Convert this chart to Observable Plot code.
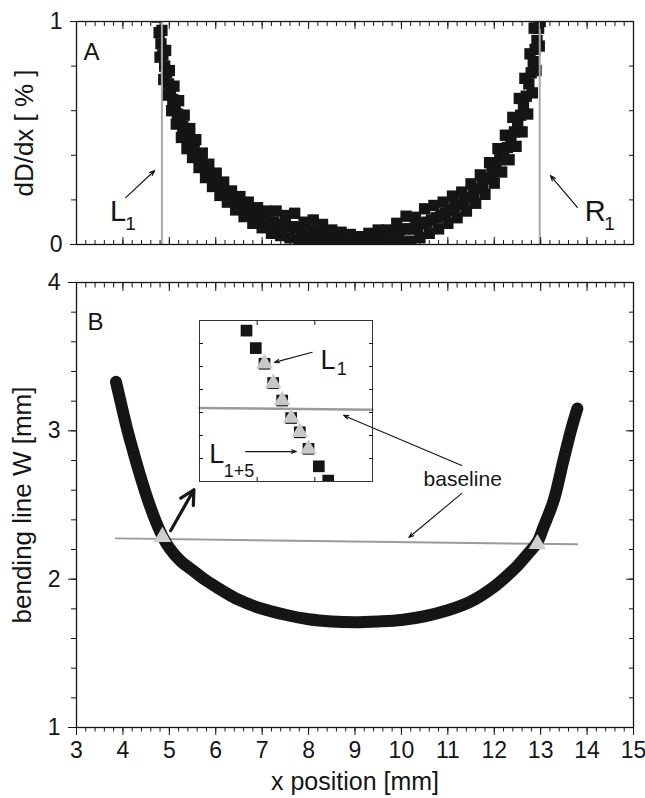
<!DOCTYPE html>
<html><head><meta charset="utf-8">
<script src="https://cdn.jsdelivr.net/npm/d3@7"></script>
<script src="https://cdn.jsdelivr.net/npm/@observablehq/plot@0.6"></script>
<style>
body{margin:0;background:#fff}
#fig{position:relative;width:645px;height:798px;background:#fff}
#fig svg{position:absolute;display:block;overflow:visible}
</style></head><body><div id="fig"></div>
<script>
// ---------- data ----------
// Panel A: dD/dx [%] versus x [mm]  ([x, dD/dx])
const derivative = [
  [4.74,1.02],[4.76,1.05],[4.78,0.95],[4.80,0.84],[4.82,0.90],[4.84,0.96],[4.86,0.85],[4.88,0.74],[4.90,0.80],[4.92,0.87],
  [4.94,0.77],[4.96,0.67],[4.98,0.72],[5.00,0.78],[5.025,0.68],[5.05,0.60],[5.075,0.65],[5.10,0.71],[5.125,0.62],[5.15,0.54],
  [5.175,0.585],[5.20,0.645],[5.23,0.56],[5.26,0.48],[5.29,0.53],[5.32,0.58],[5.35,0.50],[5.38,0.43],[5.41,0.475],[5.44,0.52],
  [5.47,0.45],[5.50,0.39],[5.535,0.43],[5.57,0.47],[5.605,0.40],[5.64,0.345],[5.675,0.38],[5.71,0.41],[5.745,0.35],[5.78,0.30],
  [5.815,0.33],[5.85,0.36],[5.89,0.31],[5.93,0.26],[5.97,0.285],[6.01,0.32],[6.05,0.27],[6.09,0.22],[6.13,0.25],[6.17,0.28],
  [6.21,0.23],[6.25,0.19],[6.295,0.215],[6.34,0.24],[6.385,0.20],[6.43,0.155],[6.475,0.185],[6.52,0.215],[6.565,0.17],[6.61,0.125],
  [6.655,0.155],[6.70,0.19],[6.75,0.14],[6.80,0.095],[6.85,0.13],[6.90,0.165],[6.95,0.12],[7.00,0.075],[7.05,0.11],[7.10,0.15],
  [7.15,0.10],[7.20,0.05],[7.25,0.10],[7.30,0.15],[7.35,0.09],[7.40,0.04],[7.45,0.085],[7.50,0.13],[7.55,0.08],[7.60,0.03],
  [7.65,0.08],[7.70,0.14],[7.75,0.075],[7.80,0.02],[7.85,0.06],[7.90,0.10],[7.95,0.055],[8.00,0.015],[8.05,0.06],[8.10,0.11],
  [8.15,0.06],[8.20,0.01],[8.25,0.05],[8.30,0.09],[8.35,0.045],[8.40,0.005],[8.45,0.035],[8.50,0.065],[8.55,0.03],[8.60,0.00],
  [8.65,0.03],[8.70,0.055],[8.75,0.025],[8.80,0.00],[8.85,0.02],[8.90,0.045],[8.95,0.02],[9.00,0.00],[9.05,0.015],[9.10,0.035],
  [9.15,0.015],[9.20,0.00],[9.25,0.025],[9.30,0.05],[9.35,0.02],[9.40,0.00],[9.45,0.03],[9.50,0.065],[9.55,0.03],[9.60,0.00],
  [9.65,0.03],[9.70,0.065],[9.75,0.035],[9.80,0.005],[9.85,0.05],[9.90,0.095],[9.95,0.05],[10.00,0.01],[10.05,0.07],[10.10,0.127],
  [10.15,0.07],[10.20,0.015],[10.25,0.07],[10.30,0.122],[10.35,0.075],[10.40,0.03],[10.45,0.095],[10.50,0.16],[10.55,0.10],[10.60,0.05],
  [10.65,0.11],[10.70,0.175],[10.75,0.12],[10.80,0.07],[10.85,0.13],[10.90,0.19],[10.95,0.14],[11.00,0.095],[11.05,0.155],[11.10,0.217],
  [11.15,0.17],[11.20,0.12],[11.25,0.18],[11.30,0.235],[11.35,0.19],[11.40,0.15],[11.45,0.21],[11.50,0.272],[11.55,0.23],[11.60,0.185],
  [11.65,0.25],[11.70,0.312],[11.75,0.27],[11.80,0.225],[11.85,0.295],[11.90,0.367],[11.95,0.32],[12.00,0.275],[12.04,0.35],[12.08,0.43],
  [12.12,0.38],[12.16,0.325],[12.20,0.41],[12.24,0.49],[12.28,0.435],[12.32,0.38],[12.36,0.475],[12.40,0.57],[12.435,0.505],[12.47,0.44],
  [12.505,0.545],[12.54,0.655],[12.57,0.58],[12.60,0.505],[12.63,0.625],[12.66,0.745],[12.69,0.665],[12.72,0.585],[12.745,0.72],[12.77,0.855],
  [12.795,0.77],[12.82,0.68],[12.84,0.82],[12.86,0.97],[12.88,0.875],[12.90,0.78],[12.92,0.915],[12.94,1.05],[12.955,0.97],[12.97,0.89],
  [12.99,1.00]
];
const edgeX = [4.84, 12.98];             // L1 and R1 positions [mm]

// Panel B: bending line W [mm]
const curveX = [3.85,4.00,4.10,4.25,4.38,4.50,4.67,4.85,5.00,5.25,5.50,5.75,6.00,6.50,7.00,7.50,8.00,8.50,9.00,9.50,10.00,10.50,11.00,11.50,12.00,12.30,12.50,12.75,12.93,13.06,13.28,13.49,13.65,13.79];
const curveW = [3.33,3.13,3.00,2.83,2.69,2.57,2.42,2.29,2.21,2.12,2.06,2.00,1.95,1.86,1.80,1.76,1.73,1.715,1.71,1.715,1.725,1.75,1.79,1.85,1.95,2.03,2.09,2.18,2.25,2.35,2.53,2.80,3.00,3.15];
const markerX = [4.85, 12.93];
const markerW = [2.285, 2.237];
const baselineX = [3.85, 13.79];
const baselineW = [2.275, 2.235];

// Inset (zoom near L1)
const insetSqX = [4.7815,4.7976,4.8127,4.8278,4.8434,4.8590,4.8739,4.8890,4.9069,4.9232];
const insetSqY = [2.528,2.490,2.456,2.414,2.376,2.338,2.307,2.271,2.233,2.202];
const insetTriX = [4.8127,4.8278,4.8434,4.8590,4.8739,4.8890];
const insetTriY = [2.456,2.414,2.376,2.338,2.307,2.271];
const insetBaseX = [4.70, 5.00];
const insetBaseY = [2.360, 2.356];

// ticks
const xMajor = [3,4,5,6,7,8,9,10,11,12,13,14,15];
const xMinor = d3.range(3, 15.001, 0.2);
const topYLabels = [0, 1];
const topYMinor = [0.2, 0.4, 0.6, 0.8];
const botYMajor = [1, 2, 3, 4];
const botYMinor = d3.range(1, 4.001, 0.2);
const insetXTicks = [4.8, 4.9];
const insetYTicks = [2.25, 2.30, 2.35, 2.40, 2.45, 2.50];

// annotations
const topArrows = [
  {x1: 4.06, y1: 0.21, x2: 4.686, y2: 0.332},
  {x1: 13.79, y1: 0.166, x2: 13.21, y2: 0.309}
];
const topLetters = [{x: 3.72, y: 0.148, t: "L"}, {x: 13.95, y: 0.148, t: "R"}];
const topSubs = [{x: 4.05, y: 0.092, t: "1"}, {x: 14.37, y: 0.092, t: "1"}];
const botArrows = [
  {x1: 11.30, y1: 2.767, x2: 8.755, y2: 3.104},
  {x1: 11.30, y1: 2.578, x2: 10.16, y2: 2.281}
];
const thickArrow = [{x1: 5.03, y1: 2.328, x2: 5.53, y2: 2.603}];
const baselineLabel = [{x: 11.32, y: 2.672, t: "baseline"}];
const insetArrows = [
  {x1: 4.8954, y1: 2.481, x2: 4.830, y2: 2.459},
  {x1: 4.780, y1: 2.265, x2: 4.868, y2: 2.265}
];
const insetLetters = [{x: 4.91, y: 2.463, t: "L"}, {x: 4.717, y: 2.258, t: "L"}];
const insetSubs = [{x: 4.938, y: 2.443, t: "1"}, {x: 4.742, y: 2.222, t: "1+5"}];

// ---------- build ----------
const FONT = "'Liberation Sans', Arial, Helvetica, sans-serif";
const INK = "#151515";
const fmt = d => String(d);
const topPts = derivative.map(([x, y]) => ({x, y}));
const curve = curveX.map((x, i) => ({x, y: curveW[i]}));
const markers = markerX.map((x, i) => ({x, y: markerW[i]}));
const baseline = baselineX.map((x, i) => ({x, y: baselineW[i]}));
const insetSq = insetSqX.map((x, i) => ({x, y: insetSqY[i]}));
const insetTri = insetTriX.map((x, i) => ({x, y: insetTriY[i]}));
const insetBase = insetBaseX.map((x, i) => ({x, y: insetBaseY[i]}));

const fig = document.getElementById("fig");

const topPlot = Plot.plot({
  width: 645, height: 262, marginTop: 21, marginBottom: 18, marginLeft: 76, marginRight: 12,
  style: {fontFamily: FONT, fontSize: "23px", background: "white", color: INK},
  x: {domain: [3, 15]}, y: {domain: [0, 1]},
  marks: [
    Plot.dot(topPts, {x: "x", y: "y", symbol: "square", r: 6.4, fill: INK, clip: true}),
    Plot.ruleX(edgeX, {stroke: "#a8a8a8", strokeWidth: 2}),
    Plot.frame({stroke: INK, strokeWidth: 1.3}),
    Plot.axisX({anchor: "bottom", ticks: xMajor, tickSize: -7, fill: "none", label: null}),
    Plot.axisX({anchor: "bottom", ticks: xMinor, tickSize: -4, fill: "none", label: null}),
    Plot.axisX({anchor: "top", ticks: xMajor, tickSize: -7, fill: "none", label: null}),
    Plot.axisX({anchor: "top", ticks: xMinor, tickSize: -4, fill: "none", label: null}),
    Plot.axisY({anchor: "left", ticks: topYLabels, tickFormat: fmt, tickSize: 6, tickPadding: 8, fontSize: 23, label: null}),
    Plot.axisY({anchor: "left", ticks: topYMinor, tickSize: 5, fill: "none", label: null}),
    Plot.axisY({anchor: "right", ticks: topYMinor, tickSize: -5, fill: "none", label: null}),
    Plot.text(["dD/dx [ % ]"], {frameAnchor: "left", rotate: -90, dx: -52, textAnchor: "middle", lineAnchor: "middle", fontSize: 26, fill: INK}),
    Plot.text(["A"], {frameAnchor: "top-left", dx: 7, dy: 21, lineAnchor: "top", textAnchor: "start", fontSize: 24, fill: INK}),
    Plot.arrow(topArrows, {x1: "x1", y1: "y1", x2: "x2", y2: "y2", stroke: INK, strokeWidth: 1.2, headLength: 7, headAngle: 40}),
    Plot.text(topLetters, {x: "x", y: "y", text: "t", textAnchor: "start", fontSize: 29, fill: INK}),
    Plot.text(topSubs, {x: "x", y: "y", text: "t", textAnchor: "start", fontSize: 19, fill: INK})
  ]
});
topPlot.style.left = "0px"; topPlot.style.top = "0px";
fig.appendChild(topPlot);

const botPlot = Plot.plot({
  width: 645, height: 536, marginTop: 20, marginBottom: 71, marginLeft: 76, marginRight: 12,
  style: {fontFamily: FONT, fontSize: "23px", background: "white", color: INK},
  x: {domain: [3, 15]}, y: {domain: [1, 4]},
  marks: [
    Plot.line(baseline, {x: "x", y: "y", stroke: "#9a9a9a", strokeWidth: 2}),
    Plot.line(curve, {x: "x", y: "y", stroke: INK, strokeWidth: 12, curve: "catmull-rom"}),
    Plot.dot(markers, {x: "x", y: "y", symbol: "triangle", r: 6.5, fill: "#cfcfcf"}),
    Plot.frame({stroke: INK, strokeWidth: 1.3}),
    Plot.axisX({anchor: "bottom", ticks: xMajor, tickFormat: fmt, tickSize: 8, tickPadding: 6, fontSize: 23, label: null}),
    Plot.axisX({anchor: "bottom", ticks: xMinor, tickSize: 4.5, fill: "none", label: null}),
    Plot.axisX({anchor: "top", ticks: xMajor, tickSize: -8, fill: "none", label: null}),
    Plot.axisX({anchor: "top", ticks: xMinor, tickSize: -4.5, fill: "none", label: null}),
    Plot.axisY({anchor: "left", ticks: botYMajor, tickFormat: fmt, tickSize: 8, tickPadding: 8, fontSize: 23, label: null}),
    Plot.axisY({anchor: "left", ticks: botYMinor, tickSize: 5, fill: "none", label: null}),
    Plot.axisY({anchor: "right", ticks: botYMajor, tickSize: -8, fill: "none", label: null}),
    Plot.axisY({anchor: "right", ticks: botYMinor, tickSize: -5, fill: "none", label: null}),
    Plot.text(["bending line W [mm]"], {frameAnchor: "left", rotate: -90, dx: -54, textAnchor: "middle", lineAnchor: "middle", fontSize: 26, fill: INK}),
    Plot.text(["x position [mm]"], {frameAnchor: "bottom", dy: 54, textAnchor: "middle", lineAnchor: "middle", fontSize: 25, fill: INK}),
    Plot.text(["B"], {frameAnchor: "top-left", dx: 11, dy: 30, lineAnchor: "top", textAnchor: "start", fontSize: 24, fill: INK}),
    Plot.arrow(botArrows, {x1: "x1", y1: "y1", x2: "x2", y2: "y2", stroke: INK, strokeWidth: 1.1, headLength: 7, headAngle: 40}),
    Plot.arrow(thickArrow, {x1: "x1", y1: "y1", x2: "x2", y2: "y2", stroke: INK, strokeWidth: 3.2, headLength: 12, headAngle: 55}),
    Plot.text(baselineLabel, {x: "x", y: "y", text: "t", fontSize: 21, fill: INK})
  ]
});
botPlot.style.left = "0px"; botPlot.style.top = "262px";
fig.appendChild(botPlot);

const insetPlot = Plot.plot({
  width: 177, height: 165, margin: 2,
  style: {fontFamily: FONT, fontSize: "18px", background: "transparent", color: INK},
  x: {domain: [4.7, 5.0]}, y: {domain: [2.2, 2.55]},
  marks: [
    Plot.line(insetBase, {x: "x", y: "y", stroke: "#9a9a9a", strokeWidth: 2.5}),
    Plot.dot(insetSq, {x: "x", y: "y", symbol: "square", r: 6.6, fill: INK, clip: true}),
    Plot.dot(insetTri, {x: "x", y: "y", symbol: "triangle", r: 6.2, fill: "#c8c8c8", clip: true}),
    Plot.frame({stroke: "#333", strokeWidth: 1}),
    Plot.axisX({anchor: "top", ticks: insetXTicks, tickSize: -4, fill: "none", label: null}),
    Plot.axisX({anchor: "bottom", ticks: insetXTicks, tickSize: -4, fill: "none", label: null}),
    Plot.axisY({anchor: "left", ticks: insetYTicks, tickSize: -4, fill: "none", label: null}),
    Plot.axisY({anchor: "right", ticks: insetYTicks, tickSize: -4, fill: "none", label: null}),
    Plot.arrow(insetArrows, {x1: "x1", y1: "y1", x2: "x2", y2: "y2", stroke: INK, strokeWidth: 1.1, headLength: 7, headAngle: 40}),
    Plot.text(insetLetters, {x: "x", y: "y", text: "t", textAnchor: "start", fontSize: 27, fill: INK}),
    Plot.text(insetSubs, {x: "x", y: "y", text: "t", textAnchor: "start", fontSize: 18, fill: INK})
  ]
});
insetPlot.style.left = "197px"; insetPlot.style.top = "318px";
fig.appendChild(insetPlot);
</script></body></html>
